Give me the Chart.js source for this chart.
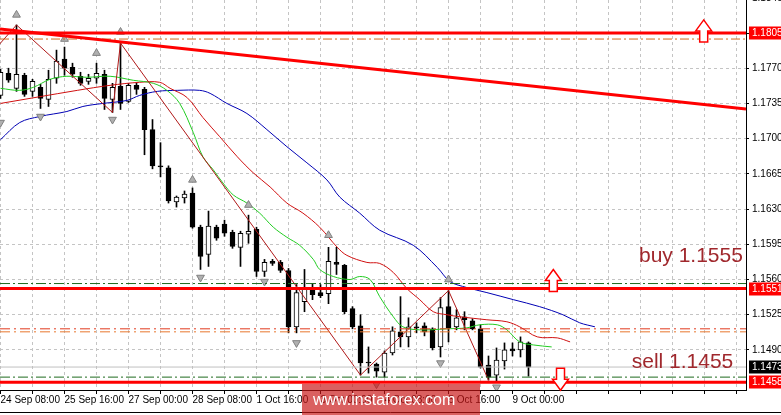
<!DOCTYPE html>
<html><head><meta charset="utf-8">
<script src="https://cdn.jsdelivr.net/npm/chart.js@4/dist/chart.umd.min.js"></script>
<style>
html,body{margin:0;padding:0;background:#fff;overflow:hidden;}
#wrap{position:relative;width:781px;height:415px;}
#c{display:block;}
#wm{position:absolute;left:302px;top:384px;width:178px;height:31px;background:rgba(200,20,20,0.68);color:#fff;
font:16px 'Liberation Sans',Arial,sans-serif;line-height:31px;padding-left:11px;box-sizing:border-box;white-space:nowrap;}
</style></head><body>
<div id="wrap"><canvas id="c" width="781" height="415"></canvas><div id="wm">www.instaforex.com</div></div>
<script>
// ---- data ----
const xLabels = ['24 Sep 08:00','25 Sep 16:00','27 Sep 00:00','28 Sep 08:00','1 Oct 16:00','3 Oct 00:00','4 Oct 08:00','5 Oct 16:00','9 Oct 00:00'];
const yTicks = [1.1840,1.1805,1.1770,1.1735,1.1700,1.1665,1.1630,1.1595,1.1560,1.1525,1.1490];

const opens  = [1.1743,1.1765,1.1750,1.1763,1.1747,1.1751,1.1739,1.1760,1.1779,1.1771,1.1762,1.1757,1.1760,1.1764,1.1739,1.1752,1.1737,1.1753,1.1749,1.1709,1.1673,1.1671,1.1637,1.1641,1.1646,1.1612,1.1585,1.1612,1.1615,1.1607,1.1592,1.1605,1.1610,1.1568,1.1578,1.1577,1.1569,1.1513,1.1538,1.1552,1.1547,1.1546,1.1577,1.1574,1.1531,1.1514,1.1478,1.1476,1.1468,1.1487,1.1508,1.1503,1.1513,1.1514,1.1511,1.1493,1.1533,1.1513,1.1523,1.1519,1.1511,1.1475,1.1465,1.1479,1.1491,1.1490,1.1497];
const highs  = [1.1769,1.1770,1.1813,1.1765,1.1759,1.1754,1.1768,1.1788,1.1791,1.1775,1.1766,1.1764,1.1775,1.1768,1.1755,1.1795,1.1755,1.1755,1.1751,1.1719,1.1696,1.1673,1.1643,1.1648,1.1651,1.1614,1.1628,1.1614,1.1619,1.1609,1.1608,1.1624,1.1612,1.1580,1.1580,1.1579,1.1571,1.1555,1.1570,1.1556,1.1555,1.1592,1.1592,1.1575,1.1533,1.1525,1.1493,1.1477,1.1489,1.1513,1.1543,1.1522,1.1517,1.1517,1.1512,1.1542,1.1549,1.1530,1.1528,1.1521,1.1515,1.1484,1.1492,1.1497,1.1497,1.1503,1.1498];
const lows   = [1.1740,1.1756,1.1747,1.1742,1.1742,1.1730,1.1732,1.1755,1.1763,1.1761,1.1753,1.1754,1.1755,1.1729,1.1726,1.1729,1.1736,1.1744,1.1684,1.1670,1.1662,1.1636,1.1632,1.1636,1.1611,1.1570,1.1573,1.1599,1.1603,1.1591,1.1573,1.1596,1.1563,1.1563,1.1574,1.1567,1.1507,1.1507,1.1528,1.1540,1.1542,1.1536,1.1565,1.1526,1.1511,1.1465,1.1467,1.1463,1.1463,1.1485,1.1493,1.1493,1.1507,1.1504,1.1490,1.1483,1.1498,1.1510,1.1510,1.1510,1.1472,1.1460,1.1458,1.1471,1.1484,1.1483,1.1464];
const closes = [1.1766,1.1758,1.1764,1.1744,1.1757,1.1740,1.1759,1.1777,1.1770,1.1764,1.1755,1.1760,1.1765,1.1740,1.1751,1.1735,1.1753,1.1749,1.1709,1.1673,1.1672,1.1638,1.1642,1.1645,1.1612,1.1583,1.1613,1.1601,1.1606,1.1593,1.1606,1.1608,1.1568,1.1577,1.1576,1.1569,1.1513,1.1547,1.1551,1.1545,1.1544,1.1578,1.1575,1.1528,1.1513,1.1477,1.1477,1.1469,1.1487,1.1509,1.1503,1.1513,1.1512,1.1508,1.1492,1.1532,1.1512,1.1522,1.1520,1.1511,1.1473,1.1463,1.1480,1.1490,1.1489,1.1498,1.1473];

const maFastIdx = [0,2.4,4.1,6.2,8.3,10.8,13.7,16.6,19.1,20.8,22.4,24.1,25.3,26.6,27.8,29.1,30.8,32.4,34.1,35.8,37.4,39.1,39.9,41.6,43.7,44.9,46.2,47.4,49.1,50.3,52.4,55.8,58.3,59.9,62.1,63.3,64.9,66.6,68.9];
const maFast    = [1.1750,1.1748,1.1751,1.1759,1.1762,1.1761,1.1762,1.1758,1.1755,1.1748,1.1735,1.1706,1.1682,1.1669,1.1656,1.1644,1.1636,1.1626,1.1612,1.1602,1.1594,1.1580,1.1570,1.1563,1.1560,1.1563,1.1560,1.1543,1.1523,1.1513,1.1510,1.1511,1.1512,1.1515,1.1515,1.1510,1.1498,1.1495,1.1493];
const maMidIdx  = [0,9.6,13.7,17.4,19.9,21.2,23.3,25.3,27.4,29.6,31.6,33.7,35.8,37.8,39.9,42.1,43.3,45.8,47.4,49.1,50.8,52.4,54.1,55.8,57.4,60.8,63.3,64.9,67.1,69.6,71.2];
const maMid     = [1.1735,1.1748,1.1753,1.1756,1.1756,1.1750,1.1741,1.1721,1.1702,1.1682,1.1666,1.1652,1.1636,1.1626,1.1612,1.1592,1.1584,1.1577,1.1576,1.1567,1.1551,1.1540,1.1528,1.1525,1.1523,1.1520,1.1518,1.1513,1.1503,1.1502,1.1498];
const maSlowIdx = [0,2.4,4.9,8.3,10.3,12.8,15.8,17.4,19.6,22.1,24.9,26.2,28.3,30.8,33.3,35.8,38.3,40.8,42.4,44.9,47.4,51.6,54.6,56.2,58.3,60.8,64.1,67.4,70.3,72.4,74.3];
const maSlow    = [1.1699,1.1716,1.1722,1.1727,1.1732,1.1735,1.1738,1.1743,1.1747,1.1748,1.1748,1.1745,1.1735,1.1725,1.1709,1.1692,1.1676,1.1659,1.1642,1.1626,1.1609,1.1594,1.1572,1.1558,1.1552,1.1547,1.1540,1.1533,1.1525,1.1517,1.1513];

const zigIdx   = [-2,2,14,15,45,56,61];
const zigPrice = [1.1777,1.1813,1.1726,1.1795,1.1465,1.1549,1.1460];

const fracUpIdx   = [2,8,12,15,24,31,41,56];
const fracUpPrice = [1.1823,1.1799,1.1785,1.1806,1.1659,1.1634,1.1604,1.1560];
const fracDnIdx   = [0,5,14,25,33,37,47,55,62];
const fracDnPrice = [1.1716,1.1722,1.1719,1.1562,1.1558,1.1497,1.1456,1.1477,1.1453];

const levelRed   = [1.1805,1.1551,1.1458];
const levelGreen = [1.1556,1.1463];
const levelOrange= [1.1799];
const levelPair  = [1.1511,1.1508];
const levelGrey  = [1.1473];
const trendIdx   = [-0.0625,93.1875];
const trendPrice = [1.18090,1.17295];

const boxPrices = [1.1805,1.1551,1.1458,1.1473];
const boxKinds  = ['red','red','red','black'];

const arrowIdx  = [87.9,69.1,70.0];
const arrowTip  = [1.1818,1.1570,1.1450];
const arrowDir  = ['up','up','down'];

const noteText  = ['buy 1.1555','sell 1.1455'];
const noteIdx   = [92.8,91.6];
const notePrice = [1.1577,1.1472];

const gridIdx = [];
for (let k = 0; k <= 92; k += 4) gridIdx.push(k);

// ---- chart ----
const X_MIN = -0.0625, X_MAX = 93.1875, Y_MIN = 1.14502, Y_MAX = 1.18378;
const FONT = "'Liberation Sans', Arial, sans-serif";
const idx = opens.map((_, i) => i);
const span = (v) => [{x: X_MIN, y: v}, {x: X_MAX, y: v}];
const hline = (v, color, width, dash, order) => ({type:'line', data: span(v), borderColor: color, borderWidth: width, borderDash: dash, pointRadius: 0, order});

const datasets = [
  {type:'bar', data: idx.map(i => ({x: i, y: [lows[i], highs[i]]})), backgroundColor:'#000', borderWidth:0, barThickness:1, grouped:false, order:40},
  {type:'bar', data: idx.map(i => ({x: i, y: [opens[i], closes[i]]})),
   backgroundColor: idx.map(i => closes[i] >= opens[i] ? '#ffffff' : '#000000'),
   borderColor:'#000', borderWidth:1, borderSkipped:false, barThickness:5, grouped:false, minBarLength:1, order:39},
  {type:'line', data: maSlowIdx.map((k,i)=>({x:k,y:maSlow[i]})), borderColor:'#0000b4', borderWidth:1, pointRadius:0, tension:0.35, order:32},
  {type:'line', data: maMidIdx.map((k,i)=>({x:k,y:maMid[i]})), borderColor:'#d01010', borderWidth:1, pointRadius:0, tension:0.35, order:31},
  {type:'line', data: maFastIdx.map((k,i)=>({x:k,y:maFast[i]})), borderColor:'#22cc22', borderWidth:1, pointRadius:0, tension:0.35, order:30},
  {type:'line', data: zigIdx.map((k,i)=>({x:k,y:zigPrice[i]})), borderColor:'#b01818', borderWidth:1, pointRadius:0, tension:0, order:25},
  {type:'scatter', data: fracUpIdx.map((k,i)=>({x:k,y:fracUpPrice[i]})), pointStyle:'triangle', pointRadius:4.5, pointRotation:0, backgroundColor:'#b0b0b0', borderColor:'#808080', borderWidth:1, order:24},
  {type:'scatter', data: fracDnIdx.map((k,i)=>({x:k,y:fracDnPrice[i]})), pointStyle:'triangle', pointRadius:4.5, pointRotation:180, backgroundColor:'#b0b0b0', borderColor:'#808080', borderWidth:1, order:24},
  hline(levelGrey[0], '#c0c0c0', 1, [], 22),
  hline(levelOrange[0], '#d2691e', 1, [9,3,2,3], 21),
  hline(levelPair[0], '#e03a1e', 1, [10,4,2,4], 21),
  hline(levelPair[1], '#e8772e', 1, [10,4,2,4], 21),
  hline(levelGreen[0], '#1e6b1e', 1, [10,3,2,3], 21),
  hline(levelGreen[1], '#1e6b1e', 1, [10,3,2,3], 21),
  hline(levelRed[0], '#ff0000', 3, [], 12),
  hline(levelRed[1], '#ff0000', 3, [], 12),
  hline(levelRed[2], '#ff0000', 3, [], 12),
  {type:'line', data: trendIdx.map((k,i)=>({x:k,y:trendPrice[i]})), borderColor:'#ff0000', borderWidth:3, pointRadius:0, order:11}
];

const overlay = {
  id: 'overlay',
  afterDraw(chart) {
    const {ctx, chartArea: ca} = chart;
    const xs = chart.scales.x, ys = chart.scales.y;
    arrowIdx.forEach((k, i) => {
      const cx = xs.getPixelForValue(k), ty = ys.getPixelForValue(arrowTip[i]);
      const d = arrowDir[i] === 'up' ? 1 : -1;
      ctx.save();
      ctx.beginPath();
      ctx.moveTo(cx, ty);
      ctx.lineTo(cx + 8, ty + 11 * d);
      ctx.lineTo(cx + 4, ty + 11 * d);
      ctx.lineTo(cx + 4, ty + 22 * d);
      ctx.lineTo(cx - 4, ty + 22 * d);
      ctx.lineTo(cx - 4, ty + 11 * d);
      ctx.lineTo(cx - 8, ty + 11 * d);
      ctx.closePath();
      ctx.fillStyle = '#ffffff'; ctx.fill();
      ctx.strokeStyle = '#ff0000'; ctx.lineWidth = 1.5; ctx.stroke();
      ctx.restore();
    });
    ctx.save();
    ctx.font = '21px ' + FONT;
    ctx.fillStyle = '#a0282d';
    ctx.textAlign = 'right';
    ctx.textBaseline = 'alphabetic';
    noteText.forEach((t, i) => ctx.fillText(t, xs.getPixelForValue(noteIdx[i]), ys.getPixelForValue(notePrice[i])));
    ctx.restore();
    ctx.save();
    ctx.font = '10px ' + FONT;
    ctx.textBaseline = 'middle';
    ctx.textAlign = 'left';
    // tick labels lying just above the visible range (cut by the top edge)
    ctx.fillStyle = '#000000';
    yTicks.filter(v => v > Y_MAX).forEach(v => ctx.fillText(v.toFixed(4), ca.right + 6, ys.getPixelForValue(v)));
    boxPrices.forEach((p, i) => {
      const py = Math.round(ys.getPixelForValue(p));
      ctx.fillStyle = boxKinds[i] === 'red' ? '#ff0000' : '#000000';
      ctx.fillRect(ca.right + 3, py - 6.5, chart.width - ca.right - 3, 13);
      ctx.fillStyle = '#ffffff';
      ctx.fillText(p.toFixed(4), ca.right + 6, py + 0.5);
    });
    ctx.restore();
    ctx.save();
    ctx.strokeStyle = '#000';
    ctx.lineWidth = 1;
    ctx.beginPath();
    ctx.moveTo(0, chart.height - 2.5); ctx.lineTo(chart.width, chart.height - 2.5);
    ctx.stroke();
    ctx.restore();
  }
};

new Chart(document.getElementById('c'), {
  type: 'line',
  data: { datasets },
  options: {
    responsive: false,
    animation: false,
    layout: { padding: 0, autoPadding: false },
    plugins: { legend: { display: false }, tooltip: { enabled: false } },
    scales: {
      x: {
        type: 'linear', min: X_MIN, max: X_MAX, offset: false,
        afterBuildTicks: s => { s.ticks = gridIdx.map(v => ({value: v})); },
        afterFit: s => { s.height = 25; s.paddingLeft = 0; s.paddingRight = 0; },
        grid: { color: '#c4c4c4', lineWidth: 1, tickLength: 4, tickColor: '#000', offset: false },
        border: { display: true, color: '#000', width: 1, dash: [3, 3] },
        ticks: {
          autoSkip: false, maxRotation: 0, minRotation: 0, align: 'start', padding: 0, color: '#000',
          font: { family: FONT, size: 10 },
          callback: (v) => { const j = v / 8; return (Number.isInteger(j) && j < xLabels.length) ? xLabels[j] : ''; }
        }
      },
      y: {
        type: 'linear', position: 'right', min: Y_MIN, max: Y_MAX,
        afterBuildTicks: s => { s.ticks = yTicks.filter(v => v <= Y_MAX).map(v => ({value: v})); },
        afterFit: s => { s.width = 35; s.paddingTop = 0; s.paddingBottom = 0; },
        grid: { color: '#c4c4c4', lineWidth: 1, tickLength: 3, tickColor: '#000' },
        border: { display: true, color: '#000', width: 1, dash: [3, 3] },
        ticks: { padding: 3, color: '#000', font: { family: FONT, size: 10 }, callback: v => Number(v).toFixed(4) }
      }
    }
  },
  plugins: [overlay]
});
</script>
</body></html>
